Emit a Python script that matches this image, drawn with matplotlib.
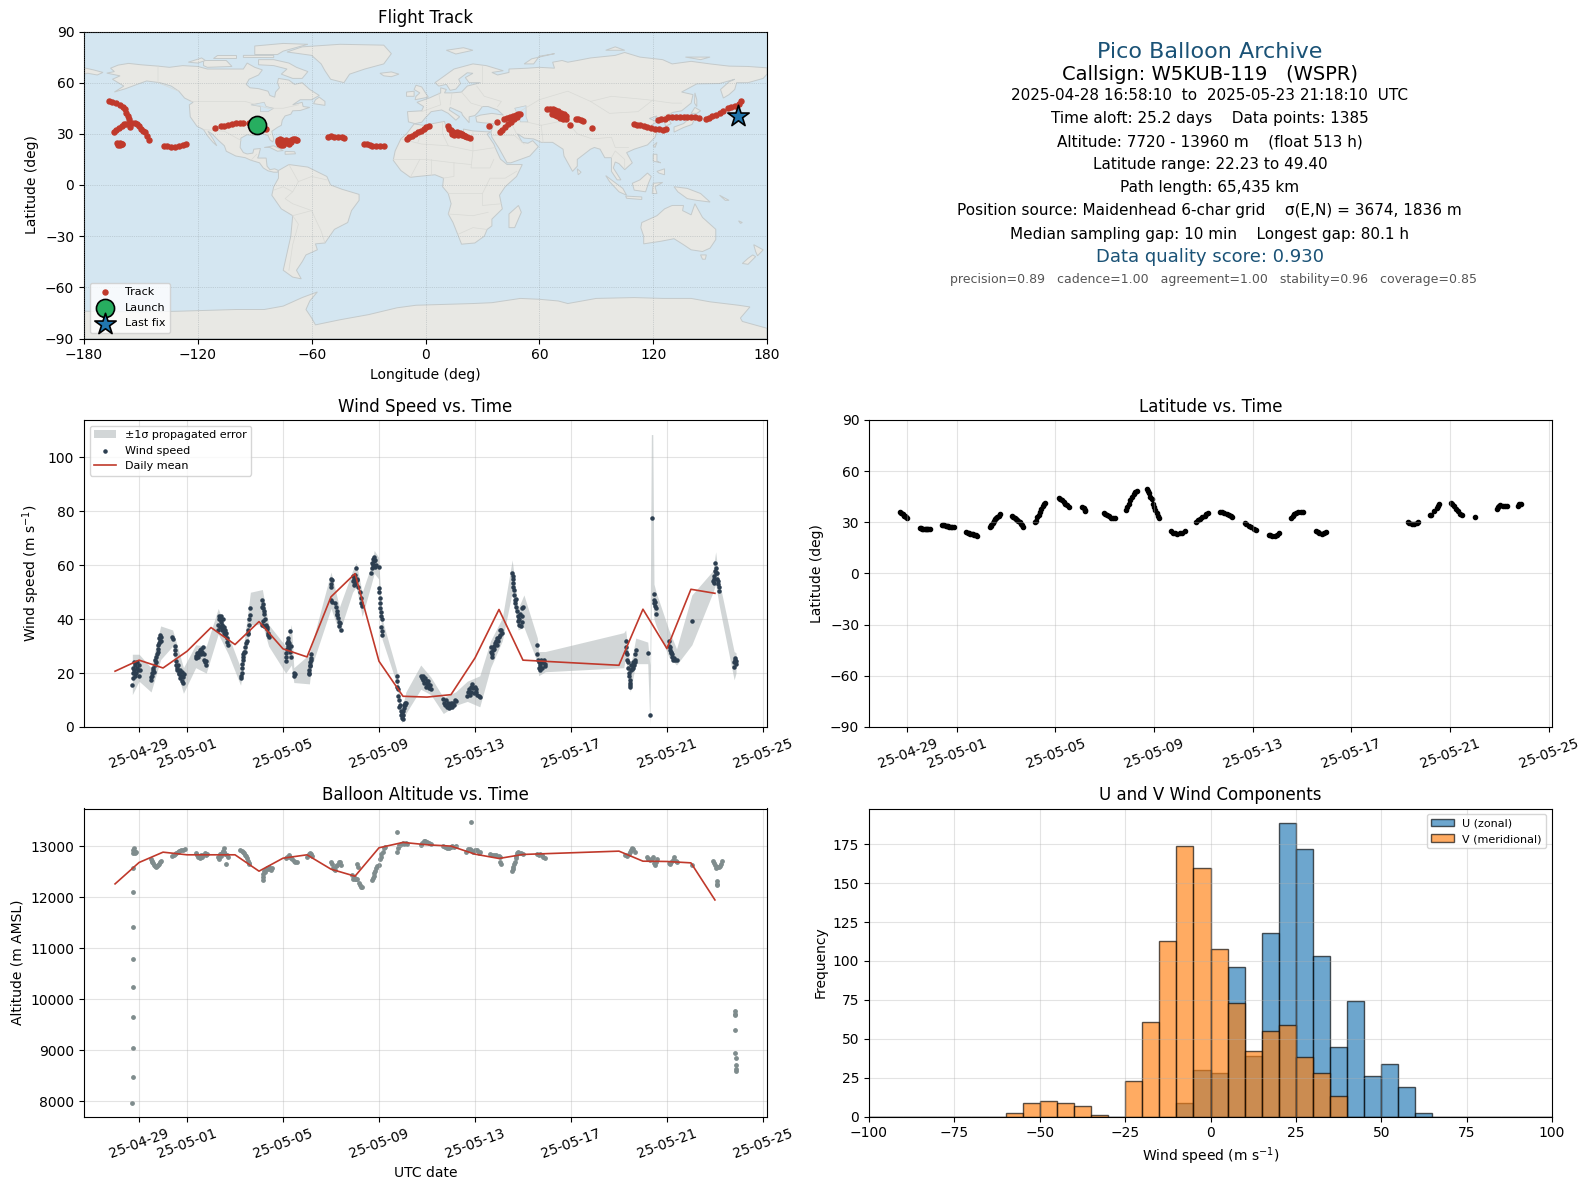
"""Pico balloon flight summary: map, stats text, wind, latitude, altitude, U/V histogram."""
from datetime import datetime

import matplotlib
matplotlib.use("Agg")
import matplotlib.dates as mdates
import matplotlib.pyplot as plt
import numpy as np
from matplotlib.patches import Polygon

# ── basemap outlines (lon, lat) ───────────────────────────────────────────────
LAND = [
    # North America
    [(-168,65.6),(-164,66.5),(-166,68.5),(-162,70.3),(-156.5,71.3),(-150,70.5),(-141,69.7),(-135,69),(-128,70),(-120,69.5),(-115,68),(-108,68),(-100,68),(-96,68),(-94,71.5),(-90,69),(-86,67.5),(-88,64.5),(-93,62),(-94.5,59),(-92.5,57),(-88,56.5),(-83,55),(-82,52.5),(-79.5,51.5),(-79,54.5),(-77,57),(-78,60),(-77.5,62.5),(-72,61.5),(-69,59),(-65,60),(-61,56),(-56,52.5),(-60,50),(-66,50),(-70,47),(-65,48.5),(-64.5,46),(-61,45.5),(-66,43.7),(-70,43.5),(-71,41.5),(-74,40.5),(-75.5,38),(-76,35),(-78,33.8),(-81,31.5),(-80,27),(-80.5,25.2),(-82,26.5),(-83,29),(-85,29.7),(-89,30.3),(-90,29),(-94,29.5),(-97.3,27.5),(-97.7,22),(-96,19),(-94,18.2),(-91,18.7),(-90.5,21),(-87,21.4),(-88,17),(-88.5,15.8),(-84,15.8),(-83.5,11),(-82,9),(-79.5,9.5),(-77.5,8.5),(-78,7.5),(-80,7.5),(-83,8.3),(-85.5,10),(-87.5,13),(-92,14.5),(-95,16),(-100,17),(-105,19.8),(-106,23),(-109,26),(-112.5,30),(-114.7,31.5),(-112,27),(-110,23),(-112,25),(-115,29),(-117,32.5),(-120.5,34.5),(-124,40),(-124.5,47),(-122.5,48.5),(-127,51),(-130,55),(-134,58),(-140,60),(-147,61),(-152,59),(-158,56.5),(-164,54.5),(-159,58),(-162,60),(-165,62),(-161,64)],
    # Arctic Canada, Greenland, Iceland
    [(-80,73.5),(-72,71.5),(-68,69),(-62,66.5),(-65,62.5),(-70,62.5),(-76,65),(-73,68),(-80,70),(-88,70.5),(-88,73.5)],
    [(-117,73),(-105,73),(-102,69.5),(-115,69),(-117,70)],
    [(-125,72),(-118,74.5),(-116,73),(-120,71.5)],
    [(-90,76.5),(-78,76.5),(-75,78.5),(-62,82.5),(-75,83),(-90,81.5)],
    [(-96,76),(-80,76),(-80,74.7),(-96,74.8)],
    [(-110,76),(-100,76),(-100,74.5),(-112,74.5)],
    [(-59,47.7),(-53,46.7),(-53,49),(-56,51.5),(-58,50)],
    [(-73,78),(-65,81),(-45,82.5),(-22,82),(-18,77),(-22,71),(-32,68),(-40,65),(-43,60),(-50,62),(-53,67),(-55,71),(-60,76)],
    [(-24,65.5),(-18,66.3),(-14,65),(-18,63.5),(-22,64)],
    # Caribbean
    [(-85,22),(-80,23),(-75,20.2),(-78,19.8),(-82,22)],
    [(-74,19.7),(-69,19.5),(-68.5,18.3),(-74,18)],
    # South America
    [(-77.5,8.5),(-72,12),(-62,10.5),(-52,5),(-50,0),(-44,-2.5),(-35,-5.5),(-35,-9),(-39,-15),(-41,-22),(-48,-26),(-53,-34),(-58,-34.5),(-57,-38),(-63,-41),(-65,-45),(-68,-50),(-65.5,-55),(-70,-54),(-75,-50),(-73,-40),(-71,-30),(-70,-18),(-76,-14),(-81,-6),(-80,-1),(-77.5,4)],
    # Eurasia
    [(-9,37),(-9.5,43),(-2,43.5),(-1,46),(-4.5,48.5),(2,51),(8,54),(8,57),(11,56),(10,54),(14,54),(19,54.5),(22,58),(29,60),(23,60),(21,63),(25,65.5),(22,65.8),(17.5,62),(18.5,59.5),(16,56.2),(13,55.5),(11,59),(7,58),(5,60),(10,64),(15,68),(25,71),(32,70),(41,67),(35,66),(38,64.5),(44,66),(44,68),(54,68.5),(60,69),(68,68.5),(67,72),(72,73),(75,72),(80,73),(87,74.5),(100,76),(105,77.7),(113,75),(125,73.5),(130,71),(140,72.5),(150,71),(160,69.7),(170,69.5),(180,68.7),(180,65),(178,62.5),(170,60),(164,60),(163,56),(160,53),(157,51),(155.5,56),(160,60.5),(163,62),(155,59.5),(143,59.3),(135,54.5),(141,53),(140,48),(135,43.5),(130,42.5),(127.5,39.5),(129.5,36),(126.5,34.5),(126,37),(124.5,40),(121,39),(122,40.5),(118,39),(122,37),(119,35),(122,31),(121,28),(117,23.5),(110,21),(106,19),(109,13),(105,9),(102,12.5),(100,13.5),(99,10),(103,3),(101,3),(98,8),(98,16),(94.5,16),(92,21),(89,22),(87,21),(80,15),(80,11),(77.5,8),(73,17),(72.5,21),(67,25),(61,25),(57,27),(52,27.5),(48.5,30),(51,25),(54,24.5),(56.5,26),(59.5,22.5),(55,17),(45,13),(43,13),(39,21),(35,28),(34.5,31),(36,36),(30,36.5),(27,37),(26.5,40),(29,41),(35,42),(41,41),(38,44),(33,46),(30,46),(28,43),(26,40.7),(23,40),(23,36.5),(19.5,41),(19,42.5),(13,45.5),(12.5,44),(18,40),(16,38),(12,42),(8.5,44),(3,43),(0,39.5),(-2,36.8),(-5.5,36)],
    [(-180,68.7),(-175,67.5),(-170,66),(-173,64.5),(-178,65.5),(-180,65)],
    [(-5.5,50),(1.5,51.5),(0,54),(-2,57.5),(-5,58.5),(-6,56),(-3,54),(-5,52)],
    [(-10,52),(-6,52),(-6,55),(-10,54.5)],
    [(11,79),(20,80.5),(25,79),(16,76.8)],
    [(52,71),(56,74),(68,77),(60,75.5),(57,71)],
    [(95,79),(105,79),(100,81)],
    [(137,75),(150,75),(145,73.5)],
    # Africa and Madagascar
    [(-6,35.8),(-1,35),(10,37.3),(11,33.5),(15,32.3),(20,30.5),(20,32.8),(25,31.7),(32,31.2),(34.3,31.2),(32.5,29.8),(36,24),(37.5,20),(39.5,15.2),(43,12),(51,12),(48,5),(42,-1),(39,-6),(40.5,-14),(35,-20),(35,-24),(32.5,-26),(31,-30),(26,-34),(19,-34.7),(17,-29),(14.5,-22),(12,-17),(13.5,-11),(12,-5),(9,-1),(9.5,4),(5,6),(-4,5),(-8,4.5),(-13,8.5),(-17,14.5),(-16,20),(-13,27),(-10,30)],
    [(49,-12),(50.5,-16),(47,-25),(44,-25),(44,-17)],
    # Asia-Pacific islands
    [(95,5.5),(104,-2),(106,-6),(102,-4),(97,2)],
    [(105.5,-6.5),(114,-7),(114,-8.5),(106,-7.8)],
    [(109,1),(113,3),(117,7),(119,5),(117.5,1),(116,-4),(110,-3)],
    [(119.5,-5),(120,1),(125,1.5),(121,-1),(122,-5)],
    [(131,-1),(138,-2),(145,-5),(150,-10),(143,-9),(138,-8),(133,-4)],
    [(120,18),(122,18),(122,14),(124,13),(120,14)],
    [(122,8),(126,9.5),(126,6),(123,7)],
    [(120,23),(122,25),(121,22)],
    [(80,9.5),(82,7.5),(80.5,6)],
    [(131,34),(136,36),(140,40),(141.5,41),(142,39),(140.5,35.5),(136,33.7),(131,31)],
    [(140,42),(142,45.5),(145,43.5),(143,42)],
    [(142,54),(143,50),(143,46),(141.8,48)],
    # Oceania
    [(114,-22),(122,-18),(126,-14),(130,-12),(136,-12),(135.5,-15),(140,-17.5),(142,-11),(146,-19),(153,-26),(153,-32),(150,-37),(146,-39),(140,-38),(136,-35),(131,-31.5),(124,-33),(115,-34.5),(115,-30),(113.5,-25)],
    [(145,-41),(148,-41),(147.5,-43.5),(146,-43.5)],
    [(173,-35),(178,-38),(175,-41.5),(174,-39)],
    [(172.5,-41),(174,-42),(170,-46.5),(167,-46),(170,-43)],
    [(155,-6),(160,-9),(158,-9)],
    [(165,-21),(167,-22),(166,-22.5)],
    # Antarctica
    [(-180,-90),(-180,-74),(-150,-74.5),(-130,-74),(-100,-73),(-85,-73),(-75,-71),(-65,-66),(-57,-62.7),(-61,-68),(-63,-73),(-60,-78),(-58,-82),(-45,-79),(-30,-76),(-15,-72),(-5,-70.5),(10,-70),(25,-69.5),(35,-69),(50,-66.5),(60,-67),(70,-68),(75,-69.5),(90,-66.5),(110,-66),(125,-66.5),(140,-66.5),(150,-68.5),(165,-70.5),(171,-71.5),(166,-78),(167,-80),(180,-84),(180,-90)],
]
LAKES = [
    [(47,45),(53,46.5),(53,40),(54,37),(50,37),(49,40.5)],
    [(-92,47),(-85,48.5),(-84,46),(-80,45),(-83,43),(-87,43),(-87,46)],
]
BORDERS = [
    [(-124,49),(-95,49),(-83,45),(-75,45),(-67,47)], [(-141,70),(-141,60),(-130,55)],
    [(-117,32.5),(-106,31.5),(-97,26)], [(-92,14.5),(-89,18)],
    [(-70,-18),(-67,-23),(-70,-35),(-72,-50)], [(-70,-18),(-60,-15),(-58,-20),(-55,-27),(-53,-34)],
    [(-72,12),(-67,2),(-70,-4),(-74,-8),(-70,-11),(-60,-15)], [(-67,2),(-60,5),(-52,3)], [(-80,-3),(-75,-1),(-70,-4)],
    [(-13,27),(-2,24),(12,23),(25,20),(37,22)], [(25,31.7),(25,20),(24,10),(34,10),(36,15)], [(9,37),(9,30),(12,23)],
    [(-17,15),(0,15),(15,13),(24,12)], [(15,13),(15,5),(9,4)], [(12,-5),(30,-5),(30,-12),(40,-11)], [(30,-5),(34,4),(42,4),(48,8)],
    [(12,-17),(25,-18),(33,-16)], [(17,-29),(25,-25),(32,-26)], [(-1,35),(-4,25)], [(-8,4.5),(-3,15)], [(3,6),(3,15)],
    [(19,54.5),(24,48),(30,46)], [(-2,43),(8,47),(7,54)], [(14,54),(13,47)], [(27,58),(31,52),(40,49),(38,46)],
    [(30,70),(30,60)], [(48,42),(60,50),(75,55),(87,49)], [(87,49),(98,52),(117,50),(130,48),(135,48)], [(87,49),(97,42),(112,43),(120,50)],
    [(74,38),(80,30),(88,27),(98,28),(100,22),(107,22)], [(61,35),(62,25)], [(61,35),(74,38)], [(53,37),(61,35)], [(45,37),(48,30)],
    [(36,36),(45,37)], [(35,29),(47,29),(52,24)], [(98,16),(100,20),(105,15),(105,10)], [(124,40),(130,42.5)],
]

# ── track ─────────────────────────────────────────────────────────────────────
track_points = [
    (-167,49.4),(-165,48.8),(-163,47.8),(-161,47),(-159.5,45.8),(-158.5,44.8),(-158,42.5),(-157,40.5),(-156.5,38.5),(-155.8,36.5),(-155.5,34),
    (-164.3,31),(-163,32.3),(-161.5,33.5),(-160,34.8),(-159,35.5),(-158,35.7),
    (-154.6,36.5),(-153,36.2),(-152,35.5),(-151,34.5),(-150,33),(-149,31.8),(-148,30.8),(-147,29),(-146,26.5),
    (-162.5,24.5),(-162,23.3),(-161,23.2),(-160,24.3),(-161,24.6),(-159.8,24.2),
    (-138,23),(-136,22.6),(-134,22.4),(-132,22.5),(-130,22.9),(-128,23.4),(-126.5,23.9),
    (-110.7,33.6),(-108,34.3),(-106,34.8),(-104,35.4),(-102,35.9),(-100,36.2),(-98,36.4),(-96,36.5),(-93,36.4),(-91,36),(-89,35.7),(-87,34.6),(-84.3,33),
    (-77.8,26.5),(-77.5,25),(-77,24),(-76,23.6),(-75,23.3),(-74,24.5),(-73,25.2),(-72,25.5),(-71,26.2),(-70,26.7),(-69,26.8),(-68,26.2),(-67.5,26.4),(-72,24.3),(-73.5,26.4),(-75.5,26.3),(-76.5,26.8),(-71,25),
    (-51.5,28.3),(-50,28.5),(-48,28.4),(-46,28.3),(-44,28),(-43,27.6),
    (-32.5,24.3),(-31,23.8),(-29.5,23.3),(-28,23),(-26,22.8),(-24,22.6),(-22,22.6),
    (-10,26.8),(-8.5,28.2),(-7,29),(-5.5,30),(-4,30.9),(-2.5,31.9),(-1,32.8),(0.5,33.8),(1.9,34.6),
    (11.9,34.4),(12.5,33),(13.5,32),(14.5,31),(14,30),(15.5,30.3),(16.5,31),(18,30.5),(19,30),(20,29.4),(21,29),(22,28),(23.4,27.8),(21,28.8),(19,29.2),(17,29.2),(15,29.5),(13.8,31),
    (33.6,34.6),(37.8,37.1),
    (39.2,31),(40.5,32.5),(42,34),(43.5,35.7),(45,37),(46.5,38.5),(48,40),(49.8,41.4),
    (41.5,38.9),(43,39.5),(44.5,40),(46,40.5),(47.5,41),(49,41.6),
    (64.1,44.8),(65.5,44.8),(67,44.5),(68.5,44),(70,43.3),(71.5,42.5),(73,41.5),(74,40.5),
    (66.8,41.5),(68,40.9),(69.5,40.3),(71,39.5),(72.5,38.8),(74,38.5),(76.1,35.4),
    (79.3,38.6),(80.5,38.7),(82,38.2),(83,37.5),(87.9,33.6),
    (109.8,36),(111.5,35.4),(113,35),(115,34.4),(117,33.8),(119,33.3),(121,33),(123,32.6),(125,32.5),(127,32.6),
    (122.8,38.4),(124,38.6),(126,38.9),
    (128,39.6),(130,39.8),(132,39.8),(134,39.8),(136,39.8),(138,39.8),(140,39.7),(142,39.6),(144,39.4),
    (147.8,38.5),(149.5,39.4),(151,40.2),(153,41),(155,42),(157,43.3),(159.6,45.3),(161,46),(163,46.6),(165,47.5),(166.1,49),
]
launch_lon, launch_lat = -88.9, 35.4
last_lon, last_lat = 164.5, 40.5

# ── time series; day values count from 2025-04-28 00:00 UTC ───────────────────
wind_points = [
    (0.72,15.7),(0.74,18),(0.75,20),(0.76,22),(0.78,24),(0.8,21),(0.82,19),(0.85,23),(0.88,20),(0.9,22),(0.93,24),(0.96,21),(0.98,19),(1.0,23),(1.02,21),
    (1.49,17.5),(1.51,18.5),(1.53,20),(1.55,19),(1.57,21),(1.6,22),(1.63,20.5),(1.65,23),(1.68,25),(1.7,26),(1.72,24),(1.75,27),(1.77,29),(1.79,28),(1.8,30.5),(1.83,31),(1.85,33),(1.87,32),(1.88,34),(1.9,33.5),(1.91,32),
    (2.39,33.5),(2.42,32.5),(2.48,30),(2.5,28.5),(2.5,27),(2.53,24.5),(2.55,23),(2.58,22),(2.6,21),(2.62,23),(2.65,20),(2.68,19.5),(2.7,21),(2.72,18),(2.75,19),(2.78,20.5),(2.8,17),(2.82,16.5),(2.85,18.5),(2.87,19.5),
    (3.36,25.5),(3.38,26.5),(3.42,27.5),(3.45,26),(3.48,28),(3.5,27),(3.53,28.5),(3.57,27),(3.6,29),(3.63,28),(3.66,29.5),(3.7,27),(3.72,25),(3.76,24),(3.78,23),(3.8,24.5),
    (4.29,36),(4.3,38),(4.32,40),(4.34,41),(4.36,37),(4.38,40),(4.4,39),(4.42,41),(4.44,36),(4.46,38),(4.48,40),(4.5,37),(4.52,35),(4.55,37),(4.58,34),(4.6,36),(4.63,35),(4.66,33),(4.68,31.5),(4.72,30.5),
    (5.23,19),(5.25,18),(5.27,20),(5.28,22),(5.3,23.5),(5.32,25),(5.33,27),(5.35,26),(5.38,28),(5.4,29.5),(5.42,28),(5.44,31),(5.5,32),(5.52,34.5),(5.54,36),(5.56,35),(5.58,38),(5.6,40),(5.62,41.5),(5.64,44),
    (6.14,47),(6.13,44.5),(6.15,44),(6.17,45.5),(6.19,43),(6.2,42),(6.15,39.5),(6.14,38),(6.22,37.5),(6.27,40),(6.3,38),(6.32,36.5),(6.34,37),(6.36,35),(6.38,34),(6.4,33.5),
    (7.11,24.5),(7.12,26),(7.13,27.5),(7.15,29),(7.17,31),(7.19,32),(7.2,30),(7.22,33),(7.24,31),(7.27,29),(7.28,35.5),(7.3,28),(7.33,30),(7.35,26),(7.45,20),(7.46,19),(7.48,19.5),
    (8.08,20),(8.09,19.5),(8.1,21),(8.11,22.5),(8.12,24),(8.13,23),(8.15,25.5),(8.17,27),(8.18,25),
    (8.98,53),(9.0,55),(9.02,52),(9.04,54.5),(9.0,47),(9.03,46.5),(9.18,46),(9.2,44.5),(9.23,43),(9.25,41.5),(9.27,42),(9.3,40.5),(9.33,39),(9.35,37.5),(9.37,38.5),(9.4,36),
    (9.9,56),(9.92,54),(9.94,52.5),(9.96,55),(9.98,53),(10.0,56.5),(10.02,54),(10.05,59),(10.07,55),(10.1,54.5),(10.13,52),(10.22,50),(10.24,48),(10.26,46),(10.3,45),
    (10.68,57),(10.7,59),(10.72,61),(10.74,62.5),(10.76,60),(10.78,63),(10.8,61.5),(10.82,62),(10.85,59.5),(10.88,60),(10.98,59.5),
    (11.0,51.5),(11.02,50),(11.03,48),(11.05,46),(11.06,44),(11.07,42.5),(11.09,41),(11.11,40),(11.1,37),(11.13,35.5),(11.13,34),
    (11.74,18.8),(11.75,17),(11.77,15),(11.78,14),(11.8,11.5),(11.82,10),(11.83,7.5),(11.87,8),(11.9,6),(11.92,4.5),(11.94,3.5),(11.96,5),(11.98,3),(12.0,4.5),(12.02,6),(12.04,7),(12.06,8),(12.08,9),(12.1,8),(12.12,9),
    (12.74,19),(12.78,18),(12.82,17.5),(12.85,19),(12.88,16.5),(12.92,18),(12.95,15),(12.98,17),(13.0,16),(13.03,17),(13.06,16),(13.1,14.5),(13.13,15.5),(13.16,14),
    (13.68,10.5),(13.72,9),(13.75,8),(13.78,10),(13.82,7.5),(13.86,9),(13.9,7),(13.93,8.5),(13.96,7.5),(14.0,9),(14.03,8),(14.06,7.5),(14.1,9),(14.13,8),(14.17,10),(14.19,9.5),
    (14.68,11.5),(14.72,13),(14.75,14),(14.78,12),(14.82,15),(14.85,13),(14.88,16),(14.92,14.5),(14.95,12.5),(15,15),(15.03,13),(15.06,14),(15.1,12),(15.15,11.5),(15.2,11),
    (15.65,29.5),(15.68,28),(15.7,27),(15.72,25.8),(15.74,28.5),(15.78,30),(15.8,29),(15.83,31),(15.86,32),(15.9,30.5),(15.93,33),(15.96,32),(16,33.5),(16.03,34),(16.05,36),(16.1,36),(16.13,35),
    (16.55,57),(16.57,56),(16.58,55),(16.59,53.5),(16.6,52),(16.62,51),(16.64,49),(16.66,47),(16.68,46),(16.7,44.5),(16.72,47.5),(16.75,43),(16.78,41),(16.8,39.5),(16.82,38),(16.85,40),(16.87,42),(16.9,37.5),(16.95,44),(17,44.5),(16.95,39),(16.98,41),
    (17.6,30.5),(17.6,27),(17.63,25),(17.65,24),(17.67,22),(17.7,21),(17.72,23),(17.75,25),(17.78,24),(17.8,22),(17.83,24),(17.86,25),(17.9,23.5),(17.93,22.5),
    (21.28,32),(21.28,29.5),(21.3,28),(21.32,27),(21.35,25),(21.37,24),(21.38,22),(21.4,20),(21.43,19),(21.44,17.5),(21.45,16.5),(21.46,15.5),(21.47,15),(21.5,21),(21.52,23),(21.55,21.5),(21.58,22),(21.6,24),(21.62,23),(21.65,25),(21.67,24),(21.68,27),(21.7,28.5),
    (22.2,27.5),(22.29,4.5),(22.38,77.6),(22.46,49.5),(22.47,47),(22.48,46),(22.5,45),(22.52,46.5),(22.53,44),(22.55,42),
    (23.08,31.8),(23.1,30),(23.12,28.5),(23.14,29.5),(23.16,27.5),(23.18,28),(23.2,27),(23.22,26),(23.25,25),(23.3,25.5),(23.35,25),(23.4,24.8),(24.04,39.4),
    (24.92,54),(24.95,53.5),(24.97,56),(24.98,55),(25.0,58),(25.02,61),(25.03,59),(25.05,57),(25.07,55),(25.1,57),(25.12,54),(25.14,53),(25.16,52),(25.18,50.5),
    (25.8,22.3),(25.8,24),(25.82,25),(25.84,25.5),(25.86,23.5),(25.88,24.5),
]
# envelope of the ±1 sigma band: (day, low, high)
wind_band = [
    (0.72,12,27),(1.0,17,27),(1.5,13,22),(1.9,25,37.5),(2.4,30,36),(2.5,23,33),(2.85,12.5,22),(3.36,22,30.5),(3.8,20,30),
    (4.3,34.5,44),(4.72,27,34),(5.23,15.5,22),(5.5,29,40),(5.64,38,50),(6.14,38,51),(6.4,30,38),(7.11,20,30),(7.35,23,38),
    (7.45,16.5,22),(8.1,16,27),(8.18,22,30),(9.0,44,57.5),(9.35,35,44.5),(9.9,50,58),(10.05,52,61),(10.3,41,50),(10.68,53,60),
    (10.8,57,65.5),(10.98,55,63),(11.13,32.5,40),(11.74,16,21),(11.94,1.5,6),(12.12,5,13),(12.74,14,23),(13.16,12,18.5),
    (13.68,5,11),(14.19,8,13),(14.68,9.5,17),(15.2,7.5,19),(15.65,22,32),(16.14,32,40.5),(16.55,50,62),(16.8,36,44),(17.04,37,49),
    (17.6,24,33),(17.65,19,28),(17.93,20.5,28),(21.2,22,35),(21.28,26,36),(21.47,13,22),(21.7,23.5,33),(22.2,23.5,31.5),
    (22.29,0.5,23),(22.35,47,108.5),(22.41,47,108.5),(22.46,40,53),(22.55,37.5,50),(23.08,26,36),(23.4,23,29),(24.04,30.5,49),(24.92,50,58),
    (25.03,53,65),(25.18,45,54),(25.8,17.5,28),(25.88,20,27.5),
]
mean_days = [0,1,2,3,4,5,6,7,8,9,10,11,12,13,14,15,16,17,21,22,23,24,25]
mean_speed = [20.7,24.8,21.9,28.1,36.9,30.6,39.1,29.0,26.0,48.3,56.9,24.4,11.4,11.1,12.0,25.6,43.6,24.8,22.9,43.7,29.1,51.1,49.6]
mean_alt = [12265,12685,12888,12836,12836,12836,12515,12770,12836,12554,12416,12974,13079,13033,13007,12849,12764,12843,12908,12711,12705,12678,11950]

lat_points = [
    (0.7,35.8),(0.75,35.3),(0.8,34.6),(0.85,34),(0.9,33.5),(0.95,33),(1.0,32.5),
    (1.5,26.8),(1.55,26.4),(1.6,26.1),(1.65,26),(1.7,25.9),(1.75,25.8),(1.8,25.8),(1.85,25.8),(1.92,25.9),
    (2.4,28.4),(2.45,28.4),(2.5,28.3),(2.55,28.1),(2.6,27.9),(2.65,27.7),(2.7,27.5),(2.75,27.3),(2.8,27.2),(2.87,27.2),
    (3.38,24.6),(3.45,24.0),(3.5,23.6),(3.55,23.4),(3.6,23.2),(3.65,22.9),(3.7,22.7),(3.76,22.4),(3.82,22.2),
    (4.33,27.3),(4.37,28),(4.4,28.6),(4.45,29.8),(4.5,30.8),(4.55,31.8),(4.6,32.6),(4.65,33.3),(4.7,33.9),(4.75,34.6),
    (5.25,33.9),(5.3,33.4),(5.35,32.8),(5.4,32),(5.45,31.4),(5.5,30.8),(5.55,30),(5.6,29.2),(5.65,28.3),(5.7,27.5),
    (6.17,30.3),(6.22,31),(6.27,33),(6.32,34.5),(6.37,36.2),(6.42,38),(6.48,39.5),(6.53,40.8),(6.59,41.5),
    (7.13,44.2),(7.2,43.8),(7.27,43),(7.33,42.2),(7.4,41),(7.47,40),(7.55,39),
    (8.09,38.8),(8.14,38.2),(8.18,37.4),(8.22,36.6),
    (8.97,35.5),(9.03,34.8),(9.1,34.2),(9.17,33.5),(9.25,32.8),(9.33,32.4),(9.42,32.5),
    (9.86,37.5),(9.92,39),(9.98,41),(10.03,43),(10.1,45),(10.17,46.6),(10.23,48),(10.29,48.5),
    (10.7,49.8),(10.75,48.5),(10.8,47),(10.85,45),(10.9,43.5),(10.95,41),(11.0,39),(11.05,37.5),(11.1,35.5),(11.15,34.0),(11.2,32.5),
    (11.7,25),(11.77,24),(11.85,23.5),(11.95,23.3),(12.05,23.5),(12.15,24),(12.25,24.9),
    (12.72,30.4),(12.78,31.2),(12.85,32),(12.95,33),(13.05,34),(13.12,35),(13.18,35.5),
    (13.67,36.3),(13.75,36),(13.85,35.5),(13.95,35),(14.05,34.4),(14.12,33.5),(14.17,33.2),
    (14.68,29.8),(14.75,29),(14.85,28),(14.95,27),(15.05,26),(15.14,25.3),
    (15.66,22.8),(15.72,22.3),(15.8,22),(15.9,22),(16,22.5),(16.08,23.8),
    (16.57,32.6),(16.62,33.8),(16.68,34.8),(16.75,35.5),(16.85,36),(16.95,36.2),(17.03,36),
    (17.57,25.2),(17.63,24.4),(17.7,23.7),(17.8,23.4),(17.9,23.6),(17.98,24.3),
    (21.28,30),(21.35,29.6),(21.45,29.2),(21.55,29.2),(21.65,29.6),(21.7,30.1),
    (22.2,34.3),(22.22,34.5),(22.37,36.6),(22.46,38.5),(22.5,39.7),(22.55,40.5),
    (23.05,41.5),(23.1,40.8),(23.17,39.5),(23.25,38),(23.33,36.5),(23.42,35),(23.5,34.2),(24.0,33.3),
    (24.9,37.6),(24.93,38.8),(24.98,39.6),(25.05,40),(25.15,39.7),(25.25,39.5),(25.32,39.6),
    (25.78,39.5),(25.82,40.5),(25.87,41),
]
alt_points = [
    (0.71,7975),(0.73,8475),(0.73,9045),(0.73,9655),(0.73,10245),(0.73,10795),(0.73,11425),(0.76,12115),(0.76,12570),(0.76,12880),(0.75,12940),(0.78,12960),(0.8,12920),(0.83,12880),(0.86,12900),(0.77,12910),
    (1.49,12760),(1.52,12720),(1.55,12700),(1.58,12670),(1.62,12640),(1.66,12620),(1.7,12600),(1.74,12610),(1.78,12630),(1.82,12660),(1.86,12690),(1.9,12720),
    (2.39,12820),(2.45,12830),(2.5,12860),(2.56,12870),(2.62,12890),(2.68,12910),(2.74,12930),(2.85,12940),(2.9,12950),
    (3.36,12870),(3.42,12840),(3.47,12800),(3.52,12780),(3.58,12840),(3.63,12790),(3.68,12830),(3.73,12870),(3.78,12840),(3.83,12860),
    (4.27,12800),(4.32,12760),(4.38,12860),(4.42,12820),(4.45,12880),(4.5,12910),(4.53,12960),(4.56,12900),(4.6,12850),(4.62,12650),(4.65,12830),(4.7,12800),
    (5.22,12930),(5.27,12910),(5.33,12900),(5.38,12880),(5.42,12840),(5.47,12810),(5.5,12770),(5.54,12720),(5.58,12680),(5.6,12650),
    (6.16,12340),(6.17,12400),(6.18,12460),(6.2,12510),(6.25,12500),(6.3,12550),(6.34,12580),(6.38,12550),(6.42,12600),(6.48,12530),(6.55,12570),
    (7.12,12780),(7.18,12800),(7.24,12830),(7.28,12790),(7.33,12780),(7.38,12760),(7.44,12720),(7.5,12700),(7.57,12700),
    (8.02,12800),(8.07,12860),(8.12,12880),(8.17,12860),(8.22,12820),
    (8.98,12700),(9.03,12660),(9.08,12580),(9.13,12560),(9.18,12540),(9.22,12610),(9.27,12640),(9.32,12690),(9.38,12690),(9.43,12630),
    (10.1,12665),(10.12,12590),(9.88,12430),(9.92,12360),(9.96,12400),(10.0,12370),(10.05,12370),(10.1,12360),(10.15,12280),(10.2,12240),(10.25,12210),(10.28,12200),
    (10.72,12350),(10.75,12380),(10.78,12420),(10.81,12470),(10.84,12520),(10.88,12580),(10.93,12610),(10.98,12640),(11.03,12750),(11.07,12800),(11.1,12850),(11.15,12900),(11.2,12960),(11.24,12990),
    (11.77,13275),(11.75,12900),(11.78,12960),(11.83,13030),(11.88,13020),(11.93,13050),(12.0,13070),(12.06,13050),(12.12,13060),(12.18,13050),
    (12.74,13020),(12.8,13060),(12.87,13100),(12.93,13110),(13.0,13090),(13.08,13060),(13.15,13040),
    (13.68,13010),(13.75,12980),(13.82,12960),(13.9,12970),(13.98,12990),(14.05,13000),(14.12,12980),(14.2,13000),
    (14.62,12900),(14.7,12950),(14.78,12950),(14.83,13470),(14.85,12930),(14.93,12900),(15,12940),(15.08,12930),(15.15,12880),(15.2,12900),
    (15.63,12850),(15.7,12840),(15.78,12830),(15.87,12830),(16,12820),(16.05,12790),(16.05,12700),(16.07,12660),
    (16.55,12510),(16.58,12560),(16.6,12600),(16.63,12650),(16.66,12700),(16.69,12770),(16.72,12820),(16.75,12880),(16.8,12890),(16.9,12880),(17,12850),
    (17.6,12850),(17.66,12840),(17.72,12850),(17.78,12830),(17.84,12800),(17.9,12780),
    (21.25,12830),(21.33,12820),(21.4,12850),(21.45,12890),(21.5,12930),(21.55,12960),(21.6,12950),(21.68,12900),
    (22.18,12790),(22.2,12750),(22.25,12750),(22.3,12740),(22.38,12750),(22.42,12790),(22.48,12670),(22.5,12630),(22.55,12700),(22.6,12750),
    (23.08,12670),(23.12,12650),(23.18,12700),(23.25,12730),(23.3,12790),(23.37,12720),(23.43,12690),(24.05,12640),
    (24.93,12720),(24.97,12680),(25.0,12640),(25.05,12580),(25.1,12600),(25.15,12590),(25.2,12620),(25.24,12660),(25.28,12710),
    (25.08,12320),(25.08,12260),(25.09,12240),
    (25.82,9780),(25.82,9720),(25.82,9690),(25.82,9400),(25.82,8945),(25.86,8850),(25.86,8710),(25.86,8630),(25.86,8590),
]

# ── U / V histogram counts, 5 m/s bins from -100 to 100 ───────────────────────
bin_edges = np.arange(-100, 105, 5)
u_counts = [0]*18 + [9,30,28,96,39,118,189,172,103,45,74,26,34,19,2,0,0,0,0,0,0,0]
v_counts = [0]*8 + [2,9,10,9,7,1,0,23,61,113,174,160,108,73,42,55,59,38,28,13,0,0,0,0,0,0,0,0,0,0,0,0]

# ── stats panel text ──────────────────────────────────────────────────────────
info_lines = [
    ("Pico Balloon Archive", 16, "#1a5276"),
    ("Callsign: W5KUB-119   (WSPR)", 14, "black"),
    ("2025-04-28 16:58:10  to  2025-05-23 21:18:10  UTC", 11, "black"),
    ("Time aloft: 25.2 days    Data points: 1385", 11, "black"),
    ("Altitude: 7720 - 13960 m    (float 513 h)", 11, "black"),
    ("Latitude range: 22.23 to 49.40", 11, "black"),
    ("Path length: 65,435 km", 11, "black"),
    ("Position source: Maidenhead 6-char grid    σ(E,N) = 3674, 1836 m", 11, "black"),
    ("Median sampling gap: 10 min    Longest gap: 80.1 h", 11, "black"),
    ("Data quality score: 0.930", 13, "#1a5276"),
    ("precision=0.89   cadence=1.00   agreement=1.00   stability=0.96   coverage=0.85", 9, "#555555"),
]
info_y = [0.934, 0.862, 0.793, 0.717, 0.642, 0.570, 0.495, 0.417, 0.342, 0.266, 0.195]

RED = "#c0392b"
NAVY = "#2c3e50"
GREY = "#7f8c8d"
FLIGHT_START = mdates.date2num(datetime(2025, 4, 28))
W, H = 1589, 1189


def px_axes(fig, left, top, right, bottom):
    """add_axes from pixel edges measured on the target image"""
    return fig.add_axes([left / W, 1 - bottom / H, (right - left) / W, (bottom - top) / H])


def to_dates(days):
    return FLIGHT_START + np.asarray(days, dtype=float)


def style_time_axis(ax):
    ax.xaxis_date()
    ax.xaxis.set_major_locator(mdates.DayLocator(bymonthday=[1, 5, 9, 13, 17, 21, 25, 29]))
    ax.xaxis.set_major_formatter(mdates.DateFormatter("%y-%m-%d"))
    ax.tick_params(axis="x", labelrotation=20)
    ax.grid(alpha=0.35)


fig = plt.figure(figsize=(W / 100, H / 100), dpi=100)

# flight track map
ax_map = px_axes(fig, 84, 31.5, 767, 338.5)
ax_map.set_facecolor("#d4e6f1")
for outline in LAND:
    ax_map.add_patch(Polygon(outline, closed=True, facecolor="#e8e8e4", edgecolor="#c4cacb", lw=0.7, zorder=1))
for outline in LAKES:
    ax_map.add_patch(Polygon(outline, closed=True, facecolor="#d4e6f1", edgecolor="#c4cacb", lw=0.5, zorder=1.1))
for line in BORDERS:
    bx, by = zip(*line)
    ax_map.plot(bx, by, color="#d9dad6", lw=0.5, zorder=1.2)
track_lon, track_lat = zip(*track_points)
ax_map.scatter(track_lon, track_lat, s=13, color=RED, zorder=3, label="Track")
ax_map.scatter(launch_lon, launch_lat, s=170, color="#27ae60", edgecolor="black", lw=1.2, zorder=5, label="Launch")
ax_map.scatter(last_lon, last_lat, s=260, marker="*", color="#2176ae", edgecolor="black", lw=1.2, zorder=5, label="Last fix")
ax_map.set_xlim(-180, 180)
ax_map.set_ylim(-90, 90)
ax_map.set_xticks(np.arange(-180, 181, 60))
ax_map.set_yticks(np.arange(-90, 91, 30))
ax_map.grid(color="#8a9499", lw=0.5, ls=":", alpha=0.6, zorder=2)
ax_map.set_axisbelow(False)
ax_map.set_title("Flight Track", fontsize=12)
ax_map.set_xlabel("Longitude (deg)")
ax_map.set_ylabel("Latitude (deg)")
ax_map.legend(loc="lower left", fontsize=8)

# stats panel
ax_info = px_axes(fig, 869, 32, 1552, 339)
ax_info.axis("off")
for (line, size, color), ypos in zip(info_lines, info_y):
    x_text = 0.504 if size == 9 else 0.499
    ax_info.text(x_text, ypos, line, ha="center", va="center", fontsize=size, color=color, transform=ax_info.transAxes)

# wind speed
ax_wind = px_axes(fig, 84, 420, 767, 727)
band_days, band_low, band_high = zip(*wind_band)
ax_wind.fill_between(to_dates(band_days), band_low, band_high, color=GREY, alpha=0.35, lw=0, label="±1σ propagated error")
wind_days, wind_speed = zip(*wind_points)
ax_wind.scatter(to_dates(wind_days), wind_speed, s=5, color=NAVY, zorder=3, label="Wind speed")
ax_wind.plot(to_dates(mean_days), mean_speed, color=RED, lw=1.2, zorder=4, label="Daily mean")
style_time_axis(ax_wind)
ax_wind.set_xlim(to_dates([-1.294, 27.17]))
ax_wind.set_ylim(bottom=0)
ax_wind.set_title("Wind Speed vs. Time", fontsize=12)
ax_wind.set_ylabel("Wind speed (m s$^{-1}$)")
ax_wind.legend(loc="upper left", fontsize=8)

# latitude
ax_lat = px_axes(fig, 869, 420, 1552, 727)
lat_days, lat_vals = zip(*lat_points)
ax_lat.scatter(to_dates(lat_days), lat_vals, s=9, color="black")
style_time_axis(ax_lat)
ax_lat.set_xlim(to_dates([-0.56, 27.14]))
ax_lat.set_ylim(-90, 90)
ax_lat.set_yticks(np.arange(-90, 91, 30))
ax_lat.set_title("Latitude vs. Time", fontsize=12)
ax_lat.set_ylabel("Latitude (deg)")

# altitude
ax_alt = px_axes(fig, 84, 808.5, 767, 1116.5)
alt_days, alt_vals = zip(*alt_points)
ax_alt.scatter(to_dates(alt_days), alt_vals, s=6, color=GREY)
ax_alt.plot(to_dates(mean_days), mean_alt, color=RED, lw=1.2, zorder=4)
style_time_axis(ax_alt)
ax_alt.set_xlim(to_dates([-1.294, 27.17]))
ax_alt.set_title("Balloon Altitude vs. Time", fontsize=12)
ax_alt.set_xlabel("UTC date")
ax_alt.set_ylabel("Altitude (m AMSL)")

# U / V histogram
ax_hist = px_axes(fig, 869, 808.5, 1552, 1116.5)
ax_hist.bar(bin_edges[:-1], u_counts, width=5, align="edge", color="tab:blue", edgecolor="black", alpha=0.65, label="U (zonal)")
ax_hist.bar(bin_edges[:-1], v_counts, width=5, align="edge", color="tab:orange", edgecolor="black", alpha=0.65, label="V (meridional)")
ax_hist.set_xlim(-100, 100)
ax_hist.set_ylim(0, 198)
ax_hist.grid(alpha=0.35)
ax_hist.set_title("U and V Wind Components", fontsize=12)
ax_hist.set_xlabel("Wind speed (m s$^{-1}$)")
ax_hist.set_ylabel("Frequency")
ax_hist.legend(loc="upper right", fontsize=8)

fig.savefig("out.png", dpi=100)
